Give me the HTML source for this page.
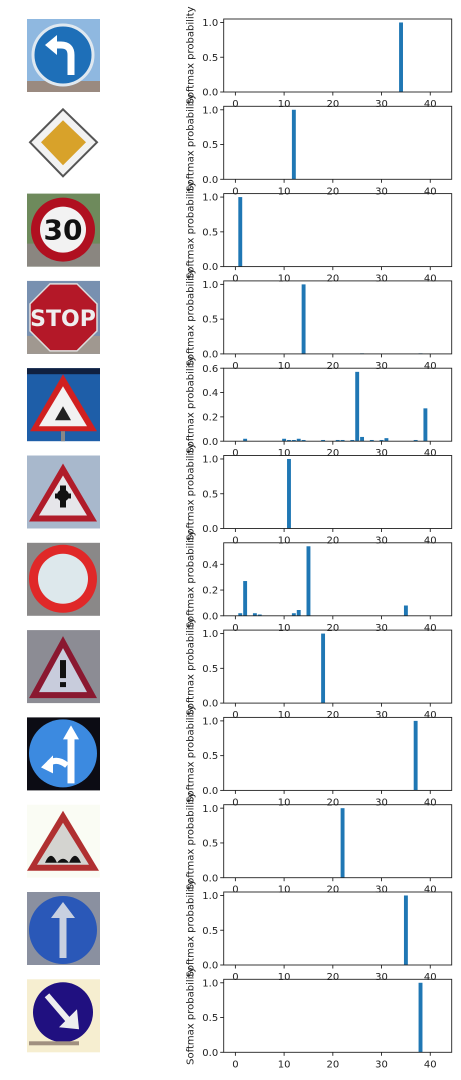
<!DOCTYPE html>
<html><head><meta charset="utf-8">
<style>
body{margin:0;background:#fff;width:461px;height:1076px;overflow:hidden;font-family:"DejaVu Sans","Liberation Sans",sans-serif;}
svg text{font-family:"DejaVu Sans","Liberation Sans",sans-serif;}
</style></head>
<body>
<svg id="fig" width="461" height="1076" xmlns="http://www.w3.org/2000/svg">
<g id="signs"></g>
<g id="charts"></g>
</svg>
<script>
// data: class index -> softmax probability per image
const classes0 = [34], probs0 = [1.0];
const classes1 = [12], probs1 = [1.0];
const classes2 = [1], probs2 = [1.0];
const classes3 = [14, 26, 38], probs3 = [1.0, 0.008, 0.008];
const classes4 = [2,10,11,12,13,14,18,21,22,24,25,26,28,30,31,37,39];
const probs4 = [0.02,0.02,0.01,0.01,0.02,0.01,0.01,0.01,0.01,0.01,0.57,0.035,0.01,0.01,0.025,0.01,0.27];
const classes5 = [11], probs5 = [1.0];
const classes6 = [1,2,4,5,12,13,15,35];
const probs6 = [0.02,0.27,0.02,0.01,0.02,0.045,0.54,0.08];
const classes7 = [18], probs7 = [1.0];
const classes8 = [37], probs8 = [1.0];
const classes9 = [22], probs9 = [1.0];
const classes10 = [35], probs10 = [1.0];
const classes11 = [38], probs11 = [1.0];
const ymaxes = [1.05,1.05,1.05,1.05,0.6,1.05,0.567,1.05,1.05,1.05,1.05,1.05];
const yticks = [[0,0.5,1.0],[0,0.5,1.0],[0,0.5,1.0],[0,0.5,1.0],[0,0.2,0.4,0.6],[0,0.5,1.0],[0,0.2,0.4],[0,0.5,1.0],[0,0.5,1.0],[0,0.5,1.0],[0,0.5,1.0],[0,0.5,1.0]];
const ytickLabels = [["0.0","0.5","1.0"],["0.0","0.5","1.0"],["0.0","0.5","1.0"],["0.0","0.5","1.0"],["0.0","0.2","0.4","0.6"],["0.0","0.5","1.0"],["0.0","0.2","0.4"],["0.0","0.5","1.0"],["0.0","0.5","1.0"],["0.0","0.5","1.0"],["0.0","0.5","1.0"],["0.0","0.5","1.0"]];
const xticks = [0,10,20,30,40];
const allClasses=[classes0,classes1,classes2,classes3,classes4,classes5,classes6,classes7,classes8,classes9,classes10,classes11];
const allProbs=[probs0,probs1,probs2,probs3,probs4,probs5,probs6,probs7,probs8,probs9,probs10,probs11];

const NS="http://www.w3.org/2000/svg";
function mk(tag,attrs,parent){const e=document.createElementNS(NS,tag);for(const k in attrs)e.setAttribute(k,attrs[k]);parent.appendChild(e);return e;}
const AX_L=223.7, AX_R=451.7, XMIN=-2.4, XMAX=44.4, H=73, TOP0=19, STEP=87.3;
const xs=v=>AX_L+(v-XMIN)/(XMAX-XMIN)*(AX_R-AX_L);
const charts=document.getElementById('charts');
for(let r=0;r<12;r++){
  const top=TOP0+r*STEP, bot=top+H, ym=ymaxes[r];
  const ys=v=>bot-v/ym*H;
  const g=mk('g',{},charts);
  
  
  for(let i=0;i<allClasses[r].length;i++){
    const c=allClasses[r][i],p=allProbs[r][i];
    const b=mk('rect',{x:xs(c-0.4),y:ys(p),width:xs(0.8)-xs(0),height:bot-ys(p),fill:'#1f77b4'},g);
    
    
  }
  const fr=mk('rect',{x:AX_L,y:top,width:AX_R-AX_L,height:H,fill:'none',stroke:'#222','stroke-width':0.9},g);
  
  
  xticks.forEach(t=>{
    mk('line',{x1:xs(t),x2:xs(t),y1:bot,y2:bot+3.5,stroke:'#222','stroke-width':0.9},g);
    const tx=mk('text',{x:xs(t),y:bot+15,'font-size':10,'text-anchor':'middle',fill:'#222'},g);
    tx.textContent=t;
    
    
  });
  yticks[r].forEach((t,i)=>{
    mk('line',{x1:AX_L-3.5,x2:AX_L,y1:ys(t),y2:ys(t),stroke:'#222','stroke-width':0.9},g);
    const tx=mk('text',{x:AX_L-5.5,y:ys(t)+3.6,'font-size':10,'text-anchor':'end',fill:'#222'},g);
    tx.textContent=ytickLabels[r][i];
    
    
  });
  const yl=mk('text',{x:0,y:0,'font-size':10,'text-anchor':'middle',fill:'#222',transform:`translate(193.5,${top+H/2}) rotate(-90)`},g);
  yl.textContent='Softmax probability';
  
  
}
// sign images
const signs=document.getElementById('signs');
const sv=[
`<rect width="73" height="73" fill="#8fb8e0"/><rect y="62" width="73" height="11" fill="#9a8a80"/><circle cx="36" cy="36" r="30" fill="#1e6fb8" stroke="#dfe8f0" stroke-width="3"/><path d="M44 56 V36 Q44 26 34 26 H26" fill="none" stroke="#fff" stroke-width="7"/><path d="M18 26 L30 16 L30 36 Z" fill="#fff"/>`,
`<rect width="73" height="73" fill="#fff"/><path d="M36 3 L70 36 L36 70 L3 36 Z" fill="#f2f2f2" stroke="#555" stroke-width="2"/><path d="M36 14 L59 36 L36 59 L14 36 Z" fill="#d8a22a"/>`,
`<rect width="73" height="73" fill="#6e8a5c"/><rect y="50" width="73" height="23" fill="#8a8680"/><circle cx="36" cy="36" r="32" fill="#b01020"/><circle cx="36" cy="36" r="23" fill="#f2f2f2"/><text x="36" y="46" font-size="28" text-anchor="middle" font-weight="bold" fill="#111">30</text>`,
`<rect width="73" height="73" fill="#7890b0"/><rect y="55" width="73" height="18" fill="#a09890"/><path d="M23 3 H50 L70 23 V50 L50 70 H23 L3 50 V23 Z" fill="#b41828" stroke="#ddd" stroke-width="1.5"/><text x="36" y="45" font-size="22" text-anchor="middle" font-weight="bold" fill="#eee">STOP</text>`,
`<rect width="73" height="73" fill="#1e5ea8"/><rect y="0" width="73" height="6" fill="#102040"/><path d="M36 6 L70 63 L3 63 Z" fill="#d02020"/><path d="M36 18 L60 58 L12 58 Z" fill="#f2f2f2"/><path d="M28 52 L36 38 L44 52 Z" fill="#222"/><rect x="34" y="63" width="4" height="10" fill="#888"/>`,
`<rect width="73" height="73" fill="#a8b8cc"/><path d="M36 8 L70 66 L2 66 Z" fill="#b01c2a"/><path d="M36 20 L60 60 L12 60 Z" fill="#e6e6ea"/><rect x="28" y="38" width="16" height="5" fill="#111"/><circle cx="36" cy="40" r="6" fill="#111"/><rect x="33" y="30" width="6" height="22" fill="#111"/>`,
`<rect width="73" height="73" fill="#8a8888"/><circle cx="36" cy="36" r="34" fill="#e02828"/><circle cx="36" cy="36" r="25" fill="#dde8ec"/>`,
`<rect width="73" height="73" fill="#8c8c94"/><path d="M36 6 L70 68 L2 68 Z" fill="#8a1830"/><path d="M36 18 L60 62 L12 62 Z" fill="#c8ccdc"/><rect x="33" y="30" width="6" height="18" fill="#111"/><rect x="33" y="52" width="6" height="5" fill="#111"/>`,
`<rect width="73" height="73" fill="#0c0c14"/><circle cx="36" cy="36" r="34" fill="#3c8ae0"/><path d="M44 66 V20" stroke="#fff" stroke-width="7"/><path d="M36 22 L44 8 L52 22 Z" fill="#fff"/><path d="M40 48 Q30 40 22 46" fill="none" stroke="#fff" stroke-width="6"/><path d="M14 50 L26 38 L26 56 Z" fill="#fff"/>`,
`<rect width="73" height="73" fill="#fafcf4"/><path d="M36 6 L72 66 L0 66 Z" fill="#b03030"/><path d="M36 18 L62 60 L10 60 Z" fill="#d4d4d0"/><path d="M18 58 Q24 44 30 58 Q36 50 42 58 Q48 44 54 58 Z" fill="#111"/>`,
`<rect width="73" height="73" fill="#8a90a0"/><circle cx="36" cy="38" r="34" fill="#2a58b8"/><path d="M36 66 V24" stroke="#c8d0e0" stroke-width="7"/><path d="M24 26 L36 10 L48 26 Z" fill="#c8d0e0"/>`,
`<rect width="73" height="73" fill="#f6eed0"/><circle cx="36" cy="33" r="30" fill="#201080"/><path d="M20 16 L44 44" stroke="#eee" stroke-width="6"/><path d="M32 48 L52 50 L50 30 Z" fill="#eee"/><rect x="2" y="62" width="50" height="4" fill="#a09080"/>`
];
for(let r=0;r<12;r++){
  const g=mk('g',{transform:`translate(27,${TOP0+r*STEP})`},signs);
  
  
  g.innerHTML=sv[r];
}
</script>
</body></html>
